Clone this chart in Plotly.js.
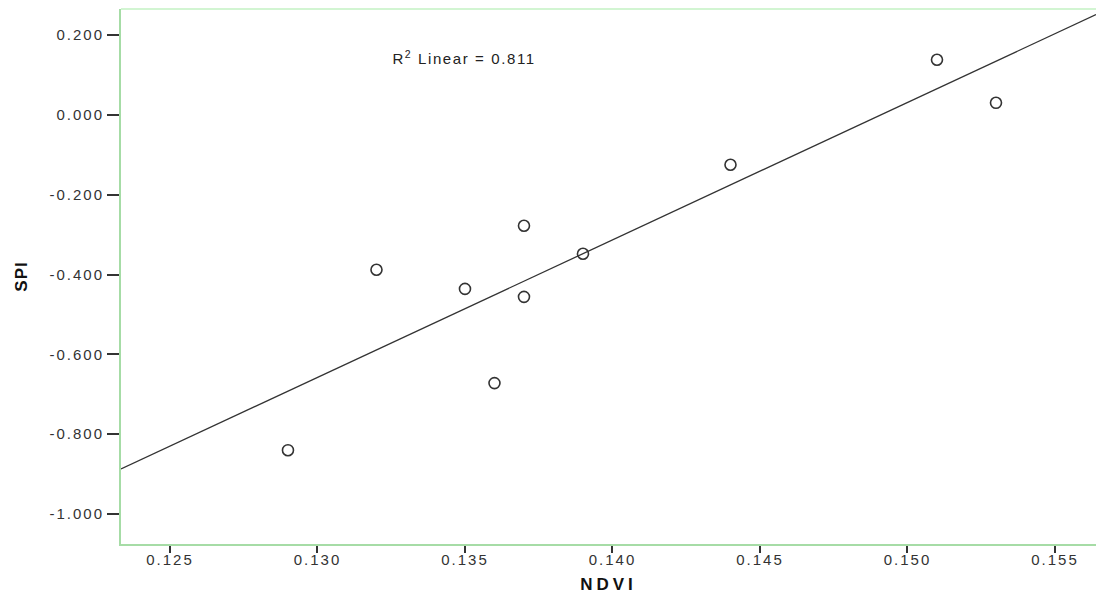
<!DOCTYPE html>
<html>
<head>
<meta charset="utf-8">
<script src="https://cdn.plot.ly/plotly-3.0.1.min.js"></script>
<style>
html,body{margin:0;padding:0;background:#fff;}
#chart{width:1096px;height:594px;}
#chart .xtick text, #chart .ytick text {letter-spacing:2px;}
#chart .annotation-text {letter-spacing:1.6px;}
#chart .xtitle {letter-spacing:4px;}
#chart .ytitle {letter-spacing:1px;}
</style>
</head>
<body>
<div id="chart"></div>
<script>
// Data
const ndvi = [0.129, 0.132, 0.135, 0.136, 0.137, 0.137, 0.139, 0.144, 0.151, 0.153];
const spi  = [-0.840, -0.388, -0.436, -0.672, -0.278, -0.456, -0.348, -0.125, 0.138, 0.030];
const xTicks = [0.125, 0.130, 0.135, 0.140, 0.145, 0.150, 0.155];
const yTicks = [0.2, 0.0, -0.2, -0.4, -0.6, -0.8, -1.0];
const r2Label = 'R<sup>2</sup> Linear = 0.811';

const xRange = [0.12334, 0.15639];
const yRange = [-1.075, 0.265];

// least squares fit line
const n = ndvi.length;
const mx = ndvi.reduce((a,b)=>a+b,0)/n;
const my = spi.reduce((a,b)=>a+b,0)/n;
let sxy=0, sxx=0;
for (let i=0;i<n;i++){ sxy += (ndvi[i]-mx)*(spi[i]-my); sxx += (ndvi[i]-mx)**2; }
const slope = sxy/sxx, icpt = my - slope*mx;
const fitX = xRange.slice();
const fitY = fitX.map(x => icpt + slope*x);

const fam = 'Liberation Sans, Arial, sans-serif';
const tickFont = {family: fam, size: 15, color: '#333'};

const traces = [
  {x: fitX, y: fitY, mode: 'lines', line: {color: '#333', width: 1.3}, hoverinfo: 'skip', showlegend: false},
  {x: ndvi, y: spi, mode: 'markers', showlegend: false,
   marker: {symbol: 'circle-open', size: 11, color: '#333', line: {width: 1.6, color: '#333'}}}
];

const layout = {
  width: 1096, height: 594,
  margin: {l: 121, r: 0, t: 9, b: 50},
  paper_bgcolor: '#fff', plot_bgcolor: '#fff',
  font: tickFont,
  xaxis: {
    range: xRange, tickvals: xTicks, ticktext: xTicks.map(v => v.toFixed(3)),
    showgrid: false, zeroline: false,
    showline: true, linecolor: '#a6dca6', linewidth: 2,
    ticks: 'outside', ticklen: 7, tickwidth: 2, tickcolor: '#333',
    ticklabelstandoff: -6,
    tickfont: tickFont,
    title: {text: '<b>NDVI</b>', font: {family: fam, size: 17, color: '#111'}, standoff: 14}
  },
  yaxis: {
    range: yRange, tickvals: yTicks, ticktext: yTicks.map(v => v.toFixed(3)),
    showgrid: false, zeroline: false,
    showline: true, linecolor: '#a6dca6', linewidth: 2,
    ticks: 'outside', ticklen: 12, tickwidth: 2, tickcolor: '#333',
    tickfont: tickFont,
    title: {text: '<b>SPI</b>', font: {family: fam, size: 17, color: '#111'}, standoff: 30}
  },
  shapes: [
    {type: 'line', xref: 'paper', yref: 'paper', x0: 0, x1: 1, y0: 1, y1: 1,
     line: {color: '#d2f5d2', width: 2}}
  ],
  annotations: [
    {text: r2Label, xref: 'x', yref: 'y', x: 0.13292, y: 0.143, xanchor: 'left', yanchor: 'middle',
     showarrow: false, font: {family: fam, size: 15, color: '#222'}}
  ]
};

Plotly.newPlot('chart', traces, layout, {displayModeBar: false, staticPlot: true});
</script>
</body>
</html>
